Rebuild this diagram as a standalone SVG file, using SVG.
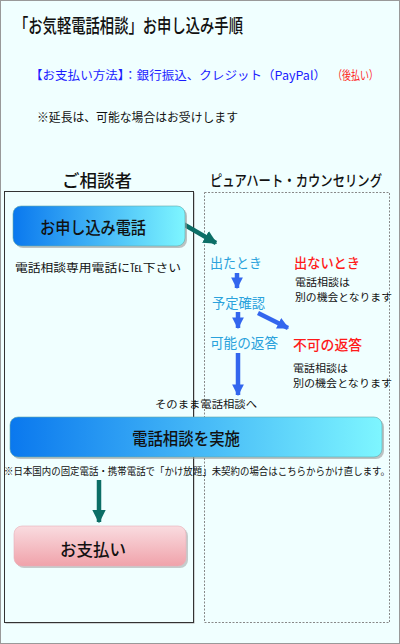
<svg xmlns="http://www.w3.org/2000/svg" width="400" height="644" viewBox="0 0 400 644">
<style>
text{font-family:"Noto Sans CJK JP","Noto Sans",sans-serif;fill:#111}
.m{font-weight:500}
.cyan{fill:#2aa2dc}
.red{fill:#ff1a1a}
.blue{fill:#1a1aff}
.sm{font-size:10.5px}
</style>
<defs>
<linearGradient id="gb" x1="0" y1="0" x2="1" y2="0">
<stop offset="0" stop-color="#0a78ee"/>
<stop offset="1" stop-color="#7ef6ff"/>
</linearGradient>
<linearGradient id="gp" x1="0" y1="0" x2="0" y2="1">
<stop offset="0" stop-color="#f9dce0"/>
<stop offset="1" stop-color="#f0a2aa"/>
</linearGradient>
<marker id="ab" viewBox="0 0 10 10" refX="9" refY="5" markerWidth="2.6" markerHeight="2.6" orient="auto" markerUnits="strokeWidth">
<path d="M0,0 L10,5 L0,10 Z" fill="#3366ee"/>
</marker>
<marker id="at" viewBox="0 0 10 10" refX="9" refY="5" markerWidth="3" markerHeight="3" orient="auto" markerUnits="strokeWidth">
<path d="M0,0 L10,5 L0,10 Z" fill="#0c6e66"/>
</marker>
</defs>
<rect x="0" y="0" width="400" height="644" fill="#f0ffff"/>
<rect x="0.5" y="0.5" width="399" height="643" fill="none" stroke="#999"/>

<g id="header">
<text x="14" y="33" font-size="19" class="m" textLength="229" lengthAdjust="spacingAndGlyphs">「お気軽電話相談」お申し込み手順</text>
<text x="30" y="80" font-size="12" class="blue" textLength="296" lengthAdjust="spacingAndGlyphs">【お支払い方法】：銀行振込、クレジット（PayPal）</text>
<text x="333" y="80" font-size="12" class="red" textLength="45" lengthAdjust="spacingAndGlyphs">（後払い）</text>
<text x="37" y="122" font-size="12" textLength="201" lengthAdjust="spacingAndGlyphs">※延長は、可能な場合はお受けします</text>
</g>

<g id="lanes">
<rect x="5.5" y="192.5" width="189" height="431" fill="#aaa"/>
<rect x="4.5" y="191.5" width="189" height="431" fill="#f0ffff" stroke="#333"/>
<rect x="204.5" y="192.5" width="185" height="430" fill="none" stroke="#888" stroke-dasharray="2,1.5"/>
<text x="62" y="187" font-size="17" class="m" textLength="70" lengthAdjust="spacingAndGlyphs">ご相談者</text>
<text x="210" y="186" font-size="15" class="m" textLength="172" lengthAdjust="spacingAndGlyphs">ピュアハート・カウンセリング</text>
</g>

<g id="connectors" fill="none">
<path d="M178,221 L216,243" stroke="#0c6e66" stroke-width="4.5" marker-end="url(#at)"/>
<path d="M237,273 L237,288" stroke="#3366ee" stroke-width="4.5" marker-end="url(#ab)"/>
<path d="M238,312 L238,328" stroke="#3366ee" stroke-width="4.5" marker-end="url(#ab)"/>
<path d="M258,313 L288,328" stroke="#3366ee" stroke-width="4.5" marker-end="url(#ab)"/>
<path d="M238,353 L238,395" stroke="#3366ee" stroke-width="4.5" marker-end="url(#ab)"/>
<path d="M99,480 L99,522" stroke="#0c6e66" stroke-width="4.5" marker-end="url(#at)"/>
</g>

<g id="n_apply">
<rect x="15" y="208" width="172" height="40" rx="8" fill="#999" opacity="0.6"/>
<rect x="13" y="206" width="172" height="40" rx="8" fill="url(#gb)" stroke="#6aa" stroke-width="0.6"/>
<text x="40" y="234" font-size="17" class="m" textLength="106" lengthAdjust="spacingAndGlyphs">お申し込み電話</text>
</g>
<g id="n_applynote">
<text x="15" y="272" font-size="11" textLength="166" lengthAdjust="spacingAndGlyphs">電話相談専用電話に℡下さい</text>
</g>

<g id="n_answered"><text x="210" y="268" font-size="14" class="cyan" textLength="52" lengthAdjust="spacingAndGlyphs">出たとき</text></g>
<g id="n_noanswer">
<text x="294" y="268" font-size="14" class="red m" textLength="66" lengthAdjust="spacingAndGlyphs">出ないとき</text>
<text x="295" y="286" class="sm" textLength="55" lengthAdjust="spacingAndGlyphs">電話相談は</text>
<text x="295" y="301" class="sm" textLength="97" lengthAdjust="spacingAndGlyphs">別の機会となります</text>
</g>
<g id="n_schedule"><text x="212" y="308" font-size="14" class="cyan" textLength="53" lengthAdjust="spacingAndGlyphs">予定確認</text></g>
<g id="n_ok"><text x="210" y="348" font-size="14" class="cyan" textLength="68" lengthAdjust="spacingAndGlyphs">可能の返答</text></g>
<g id="n_ng">
<text x="293" y="350" font-size="14" class="red m" textLength="69" lengthAdjust="spacingAndGlyphs">不可の返答</text>
<text x="293" y="372" class="sm" textLength="55" lengthAdjust="spacingAndGlyphs">電話相談は</text>
<text x="293" y="387" class="sm" textLength="99" lengthAdjust="spacingAndGlyphs">別の機会となります</text>
</g>
<g id="n_direct"><text x="155" y="408" font-size="10" textLength="102" lengthAdjust="spacingAndGlyphs">そのまま電話相談へ</text></g>

<g id="n_session">
<rect x="12" y="419" width="372" height="40" rx="8" fill="#999" opacity="0.6"/>
<rect x="10" y="417" width="372" height="40" rx="8" fill="url(#gb)" stroke="#6aa" stroke-width="0.6"/>
<text x="132" y="445" font-size="17" class="m" textLength="108" lengthAdjust="spacingAndGlyphs">電話相談を実施</text>
</g>
<g id="n_sessionnote">
<text x="4" y="475" font-size="10" textLength="386" lengthAdjust="spacingAndGlyphs">※日本国内の固定電話・携帯電話で「かけ放題」未契約の場合はこちらからかけ直します。</text>
</g>

<g id="n_pay">
<rect x="16" y="528" width="172" height="40" rx="8" fill="#999" opacity="0.5"/>
<rect x="14" y="526" width="172" height="40" rx="8" fill="url(#gp)" stroke="#e8b0b8" stroke-width="0.6"/>
<text x="60" y="556" font-size="17" class="m" textLength="66" lengthAdjust="spacingAndGlyphs">お支払い</text>
</g>
</svg>
